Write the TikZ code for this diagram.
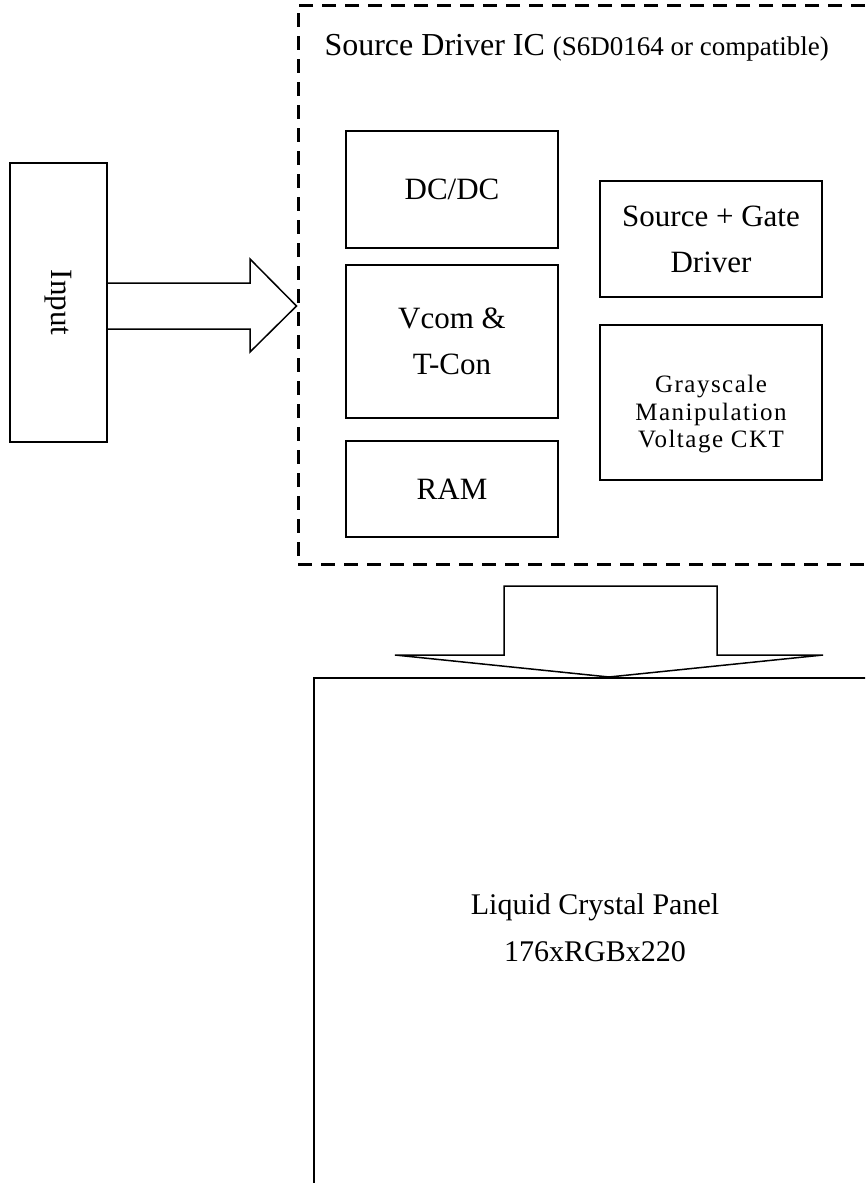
\documentclass[tikz,border=0pt]{standalone}
\usepackage{fontspec}
\setmainfont{Liberation Serif}
\newfontfamily\spacedfont[LetterSpace=6]{Liberation Serif}

\begin{document}
\begin{tikzpicture}[x=1pt, y=-1pt,
  chip/.style={draw, dash pattern=on 14pt off 9pt, line width=3pt, inner sep=0pt},
  unit/.style={draw, line width=1.5pt, inner sep=0pt, align=center, font=\fontsize{31}{46}\selectfont},
  bigarrow/.style={draw, line width=1.5pt, line join=miter}
]
\clip (0,0) rectangle (865,1183);
\node[chip, minimum width=602pt, minimum height=559pt] (ic) at (599,284.5) {};
\node[anchor=base west, font=\fontsize{32}{38}\selectfont] (ictitle) at (321,55) {Source Driver IC {\fontsize{27}{32}\selectfont (S6D0164 or compatible)}};
\node[unit, minimum width=97pt, minimum height=279pt] (inp) at (58.5,302.5) {\rotatebox{-90}{Input}};
\coordinate (tipA) at (ic.west |- 0,306);
\draw[bigarrow] (inp.east |- 0,283) -- (250,283) -- (250,259) -- (tipA) -- (250,352) -- (250,329) -- (inp.east |- 0,329);
\node[unit, minimum width=212pt, minimum height=117pt] (dcdc) at (452,189.5) {DC/DC};
\node[unit, minimum width=212pt, minimum height=153pt] (vcom) at (452,341.5) {Vcom \&\\T-Con};
\node[unit, minimum width=212pt, minimum height=96pt] (ram) at (452,489) {RAM};
\node[unit, minimum width=222pt, minimum height=116pt] (drv) at (711,239) {Source + Gate\\Driver};
\node[unit, minimum width=222pt, minimum height=155pt] (gray) at (711,402.5) {};
\node[align=center, font=\spacedfont\fontsize{25}{27.5}\selectfont] (graytext) at ([yshift=-12pt]gray.center) {Grayscale\\Manipulation\\Voltage CKT};
\node[draw, line width=2pt, minimum width=590pt, minimum height=600pt, anchor=north west] (lcd) at (313,677) {};
\node[align=center, font=\fontsize{30}{47}\selectfont] (lcdtext) at (595,928) {Liquid Crystal Panel\\176xRGBx220};
\draw[bigarrow] (lcd.north) -- ++(-214,-22) -- ++(109,0) -- ++(0,-69) -- ++(213,0) -- ++(0,69) -- ++(106,0) -- cycle;
\end{tikzpicture}
\end{document}
